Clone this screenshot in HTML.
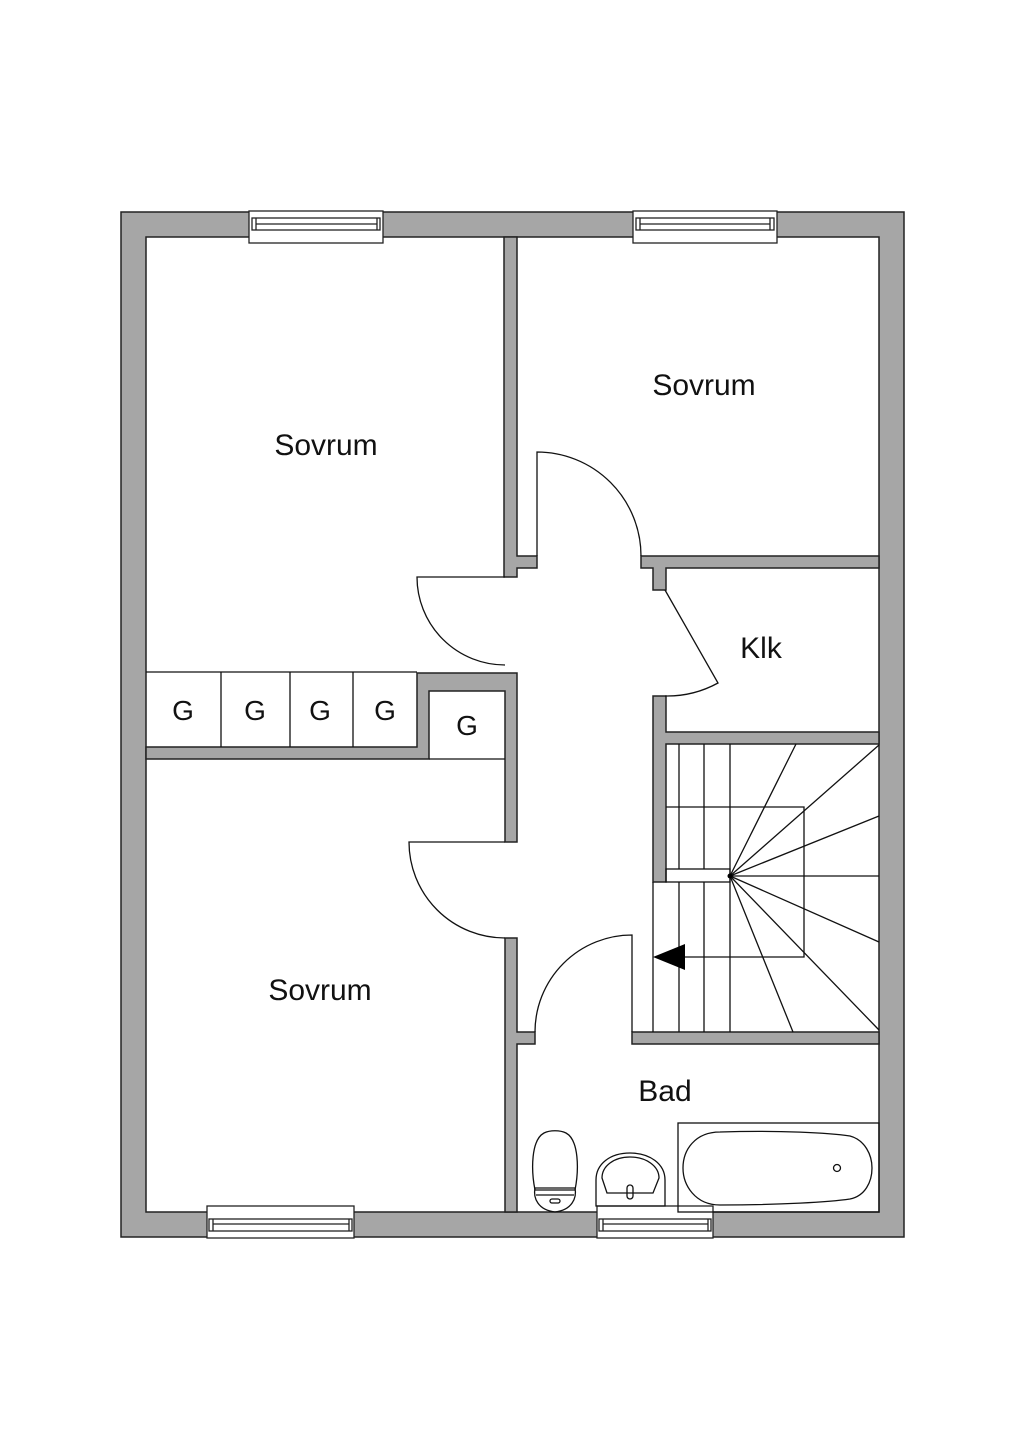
<!DOCTYPE html>
<html><head><meta charset="utf-8"><style>html,body{margin:0;padding:0;background:#fff}svg{display:block}</style></head>
<body>
<svg width="1024" height="1448" viewBox="0 0 1024 1448" xmlns="http://www.w3.org/2000/svg" font-family="Liberation Sans, sans-serif">
<g fill="#a6a6a6" stroke="#222" stroke-width="1.5">
<!-- outer walls -->
<path fill-rule="evenodd" d="M121 212H904V1237H121Z M146 237V1212H879V237Z"/>
<!-- left-center wall upper -->
<path d="M504 237V577H517V568H537V556H517V237Z"/>
<!-- wall sovrum/klk -->
<path d="M641 556H879V568H666V590H653V568H641Z"/>
<!-- klk lower/stairs wall -->
<path d="M653 696H666V732H879V744H666V882H653Z"/>
<!-- storage L wall -->
<path d="M146 747H417V673H517V842H505V691H429V759H146Z"/>
<!-- lower hall wall -->
<path d="M505 938H517V1032H535V1044H517V1212H505Z"/>
<!-- stair bottom wall -->
<path d="M632 1032H879V1044H632Z"/>
</g>
<!-- windows -->
<g fill="#fff" stroke="#222" stroke-width="1.3">
<rect x="249" y="211" width="134" height="32"/><rect x="252" y="218" width="128" height="12"/><line x1="256" y1="224" x2="377" y2="224"/><line x1="256" y1="218" x2="256" y2="230"/><line x1="377" y1="218" x2="377" y2="230"/>
<rect x="633" y="211" width="144" height="32"/><rect x="636" y="218" width="138" height="12"/><line x1="640" y1="224" x2="770" y2="224"/><line x1="640" y1="218" x2="640" y2="230"/><line x1="770" y1="218" x2="770" y2="230"/>
<rect x="207" y="1206" width="147" height="32"/><rect x="209" y="1219" width="143" height="12"/><line x1="213" y1="1224" x2="349" y2="1224"/><line x1="213" y1="1219" x2="213" y2="1231"/><line x1="349" y1="1219" x2="349" y2="1231"/>
<rect x="597" y="1206" width="116" height="32"/><rect x="599" y="1219" width="112" height="12"/><line x1="603" y1="1224" x2="708" y2="1224"/><line x1="603" y1="1219" x2="603" y2="1231"/><line x1="708" y1="1219" x2="708" y2="1231"/>
</g>
<g fill="none" stroke="#111" stroke-width="1.3">
<!-- storage lines -->
<line x1="146" y1="672" x2="417" y2="672"/>
<line x1="221" y1="672" x2="221" y2="747"/><line x1="290" y1="672" x2="290" y2="747"/><line x1="353" y1="672" x2="353" y2="747"/>
<line x1="429" y1="759" x2="505" y2="759"/>
<!-- doors -->
<path d="M537 556V452A104 104 0 0 1 641 556"/>
<path d="M505 577H417A88 88 0 0 0 505 665"/>
<path d="M505 842H409A96 96 0 0 0 505 938"/>
<path d="M632 1032V935A97 97 0 0 0 535 1032"/>
<path d="M665 590L718 683A106 106 0 0 1 665 696"/>
<!-- stairs -->
<line x1="653" y1="882" x2="653" y2="1032"/>
<rect x="666" y="869" width="64" height="13"/>
<line x1="679" y1="744" x2="679" y2="869"/><line x1="679" y1="882" x2="679" y2="1032"/>
<line x1="704" y1="744" x2="704" y2="869"/><line x1="704" y1="882" x2="704" y2="1032"/>
<line x1="730" y1="744" x2="730" y2="1032"/>
<path d="M666 807H804V957H685"/>
<line x1="730" y1="876" x2="796" y2="744"/>
<line x1="730" y1="876" x2="879" y2="745"/>
<line x1="730" y1="876" x2="879" y2="816"/>
<line x1="730" y1="876" x2="879" y2="876"/>
<line x1="730" y1="876" x2="879" y2="942"/>
<line x1="730" y1="876" x2="879" y2="1030"/>
<line x1="730" y1="876" x2="793" y2="1032"/>
<!-- bath -->
<rect x="678" y="1123" width="201" height="89"/>
<path d="M720 1132C780 1130 830 1133 850 1136C865 1140 872 1155 872 1168C872 1182 865 1196 850 1199C830 1202 780 1205 720 1205C695 1205 683 1185 683 1168C683 1150 695 1132 720 1132Z"/>
<circle cx="837" cy="1168" r="3.5"/>
<!-- toilet -->
<path d="M535 1190C531 1170 531 1140 544 1133C550 1130 560 1130 566 1133C579 1140 579 1170 575 1190Z"/>
<path d="M535 1188C533 1198 538 1210 555 1212C572 1210 577 1198 575 1188Z"/>
<line x1="536" y1="1195" x2="574" y2="1195"/>
<rect x="550" y="1199" width="10" height="4" rx="2"/>
<!-- sink -->
<path d="M596 1206V1180C596 1164 610 1153 630 1153C650 1153 665 1164 665 1180V1206Z"/>
<path d="M602 1178C602 1166 614 1157 630 1157C646 1157 659 1166 659 1178L653 1193H607Z"/>
<rect x="627" y="1185" width="6" height="14" rx="3"/>
</g>
<polygon points="653,957 685,944 685,970" fill="#000"/>
<circle cx="730" cy="876" r="2.5" fill="#000"/>
<g fill="#111" font-size="30" text-anchor="middle">
<text x="326" y="455">Sovrum</text>
<text x="704" y="395">Sovrum</text>
<text x="320" y="1000">Sovrum</text>
<text x="761" y="658">Klk</text>
<text x="665" y="1101">Bad</text>
</g>
<g fill="#111" font-size="28" text-anchor="middle">
<text x="183" y="720">G</text><text x="255" y="720">G</text><text x="320" y="720">G</text><text x="385" y="720">G</text><text x="467" y="735">G</text>
</g>
</svg>
</body></html>
